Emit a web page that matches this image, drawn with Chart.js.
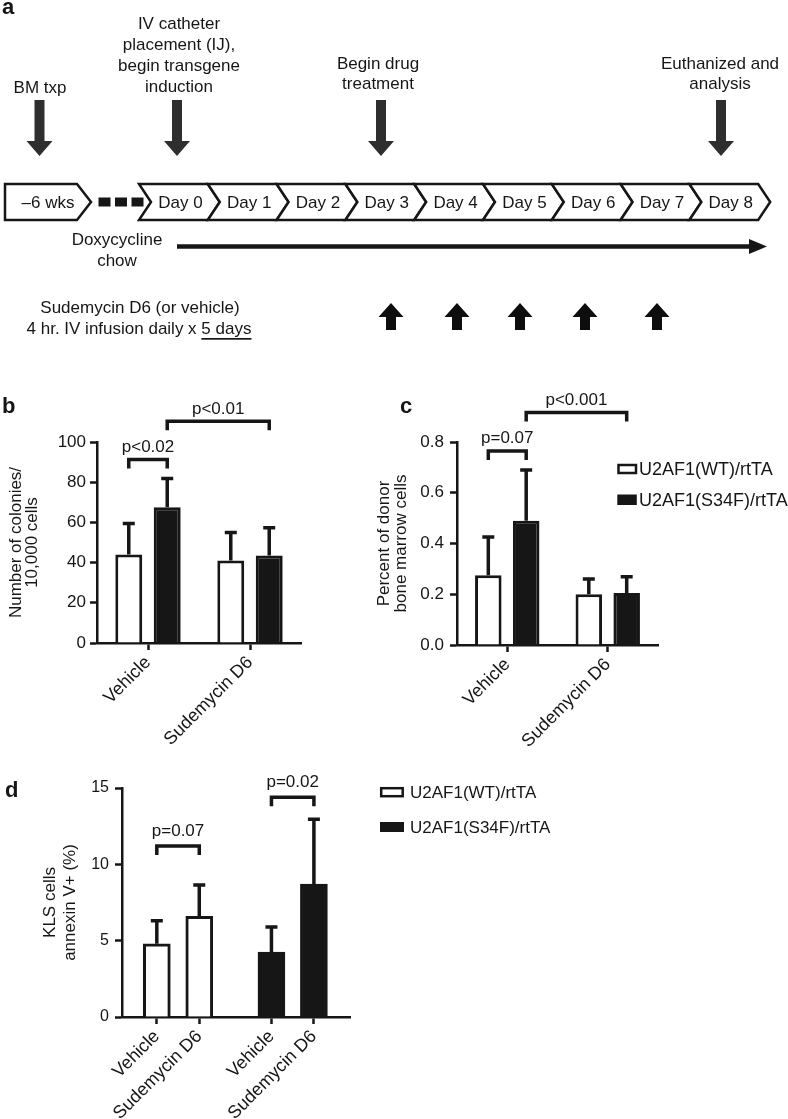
<!DOCTYPE html>
<html>
<head>
<meta charset="utf-8">
<script src="https://cdn.jsdelivr.net/npm/chart.js@4.4.1/dist/chart.umd.min.js"></script>
<style>
  body { margin: 0; background: #fff; }
  #page { position: relative; width: 788px; height: 1119px; overflow: hidden; }
  .panel { position: absolute; }
  #overlay { position: absolute; left: 0; top: 0; }
</style>
</head>
<body>
<div id="page">
  <div class="panel" style="left:0;top:380px"><canvas id="chartB" width="320" height="370"></canvas></div>
  <div class="panel" style="left:370px;top:380px"><canvas id="chartC" width="418" height="370"></canvas></div>
  <div class="panel" style="left:0;top:760px"><canvas id="chartD" width="380" height="359"></canvas></div>
  <svg id="overlay" width="788" height="1119" font-family="Liberation Sans, Arial, sans-serif" fill="#161616"></svg>
</div>
<script>
// ---- data ----
const genotypes = ['U2AF1(WT)/rtTA', 'U2AF1(S34F)/rtTA'];

// b: colonies per 10,000 cells
const bCategories = ['Vehicle', 'Sudemycin D6'];
const bWT = [44, 41];
const bWTsd = [15.5, 14];
const bS34F = [67.5, 43.5];
const bS34Fsd = [14.3, 13.8];
const bYTicks = [0, 20, 40, 60, 80, 100];
const bBrackets = [
  { from: [0, 0], to: [1, 0], y: 91.3, label: 'p<0.02' },
  { from: [1, 0], to: [1, 1], y: 110.3, label: 'p<0.01' }
];

// c: percent of donor bone marrow cells
const cCategories = ['Vehicle', 'Sudemycin D6'];
const cWT = [0.275, 0.2];
const cWTsd = [0.151, 0.06];
const cS34F = [0.49, 0.205];
const cS34Fsd = [0.2, 0.064];
const cYTicks = [0, 0.2, 0.4, 0.6, 0.8];
const cBrackets = [
  { from: [0, 0], to: [1, 0], y: 0.765, label: 'p=0.07' },
  { from: [1, 0], to: [1, 1], y: 0.916, label: 'p<0.001' }
];

// d: KLS cells annexin V+ (%)
const dTreatments = ['Vehicle', 'Sudemycin D6'];
const dWT = [4.8, 6.6];
const dWTsd = [1.5, 2.05];
const dS34F = [4.25, 8.7];
const dS34Fsd = [1.65, 4.25];
const dYTicks = [0, 5, 10, 15];
const dBrackets = [
  { from: [0, 0], to: [0, 1], y: 11.2, label: 'p=0.07' },
  { from: [0, 2], to: [0, 3], y: 14.4, label: 'p=0.02' }
];

// a: timeline
const days = ['Day 0', 'Day 1', 'Day 2', 'Day 3', 'Day 4', 'Day 5', 'Day 6', 'Day 7', 'Day 8'];

// ---- chart helpers ----
const INK = '#161616';
Chart.defaults.font.family = '"Liberation Sans", Arial, sans-serif';
Chart.defaults.color = INK;

const errorBars = {
  id: 'errorBars',
  afterDatasetsDraw(chart, args, opts) {
    const ctx = chart.ctx, y = chart.scales.y;
    ctx.save();
    ctx.strokeStyle = INK;
    ctx.lineWidth = 3.5;
    chart.data.datasets.forEach((ds, di) => {
      chart.getDatasetMeta(di).data.forEach((bar, i) => {
        const raw = ds.data[i];
        const v = typeof raw === 'object' ? raw.y : raw;
        const top = y.getPixelForValue(v + ds.sd[i]);
        ctx.beginPath();
        ctx.moveTo(bar.x, bar.y);
        ctx.lineTo(bar.x, top);
        ctx.moveTo(bar.x - opts.cap / 2, top);
        ctx.lineTo(bar.x + opts.cap / 2, top);
        ctx.stroke();
      });
    });
    ctx.restore();
  }
};

const brackets = {
  id: 'brackets',
  afterDraw(chart, args, opts) {
    const ctx = chart.ctx, y = chart.scales.y;
    ctx.save();
    ctx.strokeStyle = INK;
    ctx.fillStyle = INK;
    ctx.lineWidth = 3.5;
    ctx.lineJoin = 'miter';
    ctx.font = '17px "Liberation Sans", Arial, sans-serif';
    ctx.textAlign = 'center';
    opts.items.forEach(b => {
      const x1 = chart.getDatasetMeta(b.from[0]).data[b.from[1]].x;
      const x2 = chart.getDatasetMeta(b.to[0]).data[b.to[1]].x;
      const top = y.getPixelForValue(b.y);
      ctx.beginPath();
      ctx.moveTo(x1, top + opts.drop);
      ctx.lineTo(x1, top);
      ctx.lineTo(x2, top);
      ctx.lineTo(x2, top + opts.drop);
      ctx.stroke();
      ctx.fillText(b.label, (x1 + x2) / 2, top - opts.gap);
    });
    ctx.restore();
  }
};

function yAxis(ticks, width, title, titlePad, lineHeight, tickPad, fmt, tickSize) {
  return {
    min: ticks[0],
    max: ticks[ticks.length - 1],
    afterBuildTicks: s => { s.ticks = ticks.map(v => ({ value: v })); },
    afterFit: s => { s.width = width; s.paddingTop = 0; s.paddingBottom = 0; },
    border: { display: true, color: INK, width: 2.5 },
    grid: { drawOnChartArea: false, tickLength: 7, tickWidth: 2.5, tickColor: INK },
    ticks: { color: INK, font: { size: tickSize }, padding: tickPad, callback: fmt },
    title: { display: true, text: title, color: INK, font: { size: 17, lineHeight: lineHeight }, padding: { top: titlePad, bottom: 0 } }
  };
}

function xAxisStyle(height) {
  return {
    afterFit: s => { s.height = height; s.paddingLeft = 0; s.paddingRight = 0; },
    border: { display: true, color: INK, width: 2.5 },
    grid: { drawOnChartArea: false, offset: false, tickLength: 7, tickWidth: 2.5, tickColor: INK },
    ticks: { color: INK, font: { size: 18 }, minRotation: 45, maxRotation: 45, autoSkip: false, padding: 2 }
  };
}

function barSet(values, sd, fill) {
  return {
    data: values, sd: sd,
    backgroundColor: fill, borderColor: INK, borderWidth: 3,
    categoryPercentage: 0.754, barPercentage: 0.7
  };
}

function groupedChart(id, cats, wt, wtSd, mut, mutSd, yOpts, xHeight, pad, items) {
  new Chart(document.getElementById(id), {
    type: 'bar',
    data: { labels: cats, datasets: [barSet(wt, wtSd, '#fff'), barSet(mut, mutSd, INK)] },
    options: {
      responsive: false, animation: false, devicePixelRatio: 1,
      layout: { padding: pad },
      plugins: {
        legend: { display: false }, tooltip: { enabled: false },
        errorBars: { cap: 12 },
        brackets: { items: items, drop: 9, gap: 7.5 }
      },
      scales: { x: Object.assign({ type: 'category', offset: true }, xAxisStyle(xHeight)), y: yOpts }
    },
    plugins: [errorBars, brackets]
  });
}

groupedChart('chartB', bCategories, bWT, bWTsd, bS34F, bS34Fsd,
  yAxis(bYTicks, 97, ['Number of colonies/', '10,000 cells'], 8, 0.95, 4, v => v, 17),
  107, { top: 62, right: 19, left: 0, bottom: 0 }, bBrackets);

groupedChart('chartC', cCategories, cWT, cWTsd, cS34F, cS34Fsd,
  yAxis(cYTicks, 87, ['Percent of donor', 'bone marrow cells'], 5.5, 1.0, 6, v => v.toFixed(1), 17),
  105, { top: 62, right: 130, left: 0, bottom: 0 }, cBrackets);

// d: four bars on a linear axis, the two genotypes set apart by a gap
const dGroupGap = 0.7;
const dPos = [...dWT.map((v, i) => i), ...dS34F.map((v, i) => i + dWT.length + dGroupGap)];
const dValues = [...dWT, ...dS34F];
const dSd = [...dWTsd, ...dS34Fsd];
const dLabels = [...dTreatments, ...dTreatments];
const dFills = [...dWT.map(() => '#fff'), ...dS34F.map(() => INK)];

new Chart(document.getElementById('chartD'), {
  type: 'bar',
  data: {
    datasets: [{
      data: dPos.map((x, i) => ({ x: x, y: dValues[i] })), sd: dSd,
      backgroundColor: dFills, borderColor: INK, borderWidth: 3, barThickness: 27
    }]
  },
  options: {
    responsive: false, animation: false, devicePixelRatio: 1,
    layout: { padding: { top: 28, right: 30, left: 0, bottom: 0 } },
    plugins: {
      legend: { display: false }, tooltip: { enabled: false },
      errorBars: { cap: 12 },
      brackets: { items: dBrackets, drop: 9, gap: 10.5 }
    },
    scales: {
      x: Object.assign({
        type: 'linear', offset: false, min: -0.82, max: 4.55,
        afterBuildTicks: s => { s.ticks = dPos.map(v => ({ value: v })); }
      }, xAxisStyle(102), {
        ticks: { color: INK, font: { size: 18 }, minRotation: 45, maxRotation: 45, autoSkip: false, padding: 2,
                 callback: (v, i) => dLabels[i] }
      }),
      y: yAxis(dYTicks, 122, ['KLS cells', 'annexin V+ (%)'], 40, 1.2, 6, v => v, 16)
    }
  },
  plugins: [errorBars, brackets]
});

// ---- overlay: timeline (a), panel letters, legends ----
const svg = document.getElementById('overlay');
const NS = 'http://www.w3.org/2000/svg';
function el(tag, attrs, text) {
  const e = document.createElementNS(NS, tag);
  for (const k in attrs) e.setAttribute(k, attrs[k]);
  if (text !== undefined) e.textContent = text;
  svg.appendChild(e);
  return e;
}
function label(x, y, text, size, extra) {
  return el('text', Object.assign({ x: x, y: y, 'text-anchor': 'middle', 'dominant-baseline': 'central', 'font-size': size || 17 }, extra || {}), text);
}

// panel letters
el('text', { x: 2, y: 14, 'font-size': 22, 'font-weight': 'bold' }, 'a');
el('text', { x: 2, y: 413, 'font-size': 22, 'font-weight': 'bold' }, 'b');
el('text', { x: 400, y: 413, 'font-size': 22, 'font-weight': 'bold' }, 'c');
el('text', { x: 5, y: 797, 'font-size': 22, 'font-weight': 'bold' }, 'd');

// event labels and arrows
label(40, 87, 'BM txp');
['IV catheter', 'placement (IJ),', 'begin transgene', 'induction'].forEach((t, i) => label(179, 23 + i * 21, t));
['Begin drug', 'treatment'].forEach((t, i) => label(378, 63 + i * 20.5, t));
['Euthanized and', 'analysis'].forEach((t, i) => label(720, 63 + i * 20.5, t));

[39.5, 177, 381, 721].forEach(x => {
  el('polygon', { fill: '#2e2e2e', points: [
    [x - 5, 100], [x + 5, 100], [x + 5, 141], [x + 13, 141], [x, 156], [x - 13, 141], [x - 5, 141]
  ].map(p => p.join(',')).join(' ') });
});

// timeline row
const rowTop = 184, rowBot = 220, rowMid = 202, notch = 12;
el('polygon', { fill: '#fff', stroke: INK, 'stroke-width': 2.5, 'stroke-linejoin': 'miter',
  points: `5,${rowTop} 77,${rowTop} 91,${rowMid} 77,${rowBot} 5,${rowBot}` });
label(48, rowMid, '\u20136 wks');
[98.5, 115, 131.5].forEach(x => el('rect', { x: x, y: rowMid - 4.5, width: 12, height: 9, fill: INK }));

const dayStart = 139, dayWidth = 68.8;
days.forEach((d, i) => {
  const x0 = dayStart + i * dayWidth, x1 = x0 + dayWidth;
  el('polygon', { fill: '#fff', stroke: INK, 'stroke-width': 2.5, 'stroke-linejoin': 'miter',
    points: `${x0},${rowTop} ${x1},${rowTop} ${x1 + notch},${rowMid} ${x1},${rowBot} ${x0},${rowBot} ${x0 + notch},${rowMid}` });
  label(x0 + dayWidth / 2 + notch / 2 + 1, rowMid, d);
});

// doxycycline
label(117, 239, 'Doxycycline');
label(117, 260, 'chow');
el('line', { x1: 177, y1: 246.5, x2: 752, y2: 246.5, stroke: INK, 'stroke-width': 4.5 });
el('polygon', { fill: INK, points: '749,239 767,246.5 749,254' });

// drug infusion
label(140, 307, 'Sudemycin D6 (or vehicle)');
const inf = label(139, 328, '4 hr. IV infusion daily x ');
const u = document.createElementNS(NS, 'tspan');
u.setAttribute('text-decoration', 'underline');
u.style.textDecoration = 'underline';
u.textContent = '5 days';
inf.appendChild(u);
[391, 457, 520, 585, 657].forEach(x => {
  el('polygon', { fill: '#0d0d0d', points: [
    [x, 303], [x + 12.5, 317], [x + 5, 317], [x + 5, 330], [x - 5, 330], [x - 5, 317], [x - 12.5, 317]
  ].map(p => p.join(',')).join(' ') });
});

// legends
el('rect', { x: 618.5, y: 465, width: 17.5, height: 8, fill: '#fff', stroke: INK, 'stroke-width': 2.5 });
el('rect', { x: 617.3, y: 494.5, width: 19.5, height: 10.5, fill: INK });
el('text', { x: 639, y: 469, 'font-size': 18, 'dominant-baseline': 'central' }, genotypes[0]);
el('text', { x: 639, y: 500, 'font-size': 18, 'dominant-baseline': 'central' }, genotypes[1]);

el('rect', { x: 381.2, y: 788.2, width: 21.5, height: 8, fill: '#fff', stroke: INK, 'stroke-width': 2.5 });
el('rect', { x: 380, y: 822, width: 24, height: 10, fill: INK });
el('text', { x: 410, y: 792, 'font-size': 17, 'dominant-baseline': 'central' }, genotypes[0]);
el('text', { x: 410, y: 827, 'font-size': 17, 'dominant-baseline': 'central' }, genotypes[1]);
</script>
</body>
</html>
